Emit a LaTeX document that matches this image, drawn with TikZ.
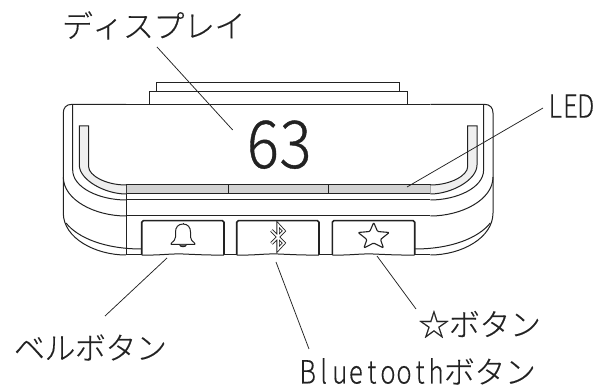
\documentclass[tikz,border=0pt]{standalone}
\usepackage{fontspec}
\setmainfont{Noto Sans CJK JP Light}[FakeBold=0.3]
\newfontfamily\latf[FakeStretch=0.8,FakeBold=0.3]{Noto Sans CJK JP Light}
\newfontfamily\bigf[FakeStretch=0.9,FakeBold=0.6]{Noto Sans CJK JP Light}
\newcommand\kanasize{\fontsize{31}{32}\selectfont}
\newcommand\hwc[1]{\makebox[16.05pt][c]{\latf\fontsize{32}{32}\selectfont #1}}
\newcommand\ledc[1]{\makebox[15.2pt][c]{\latf\fontsize{32}{32}\selectfont #1}}
\newcommand\bigc[1]{\makebox[32.5pt][c]{\bigf\fontsize{66}{66}\selectfont #1}}
\newcommand\kc[1]{\makebox[30.5pt][c]{\kanasize #1}}
\definecolor{ink}{HTML}{222222}
\definecolor{ledgrey}{HTML}{D2D2D2}
\definecolor{pipegrey}{HTML}{EFEFEF}
\tikzset{
  body/.style={draw=ink,line width=1pt},
  btn/.style={draw=ink,line width=1.6pt,rounded corners=1.5pt},
  leader/.style={draw=ink,line width=0.75pt},
  lbl/.style={inner sep=0pt,anchor=base west,text=ink},
  icon/.style={draw=ink,line width=1pt,line join=round}
}
\newcommand\sidepart{%
  \draw[body,fill=pipegrey] (126,185) .. controls (105,185) and (88.7,175) .. (88.7,167) -- (88.7,126)
     -- (79.3,126) -- (79.3,165) .. controls (79.3,180) and (105,194) .. (126,194);
  \draw[body] (126,104.3) -- (72,104.3) .. controls (66,104.3) and (63.3,108) .. (63.3,113)
     -- (63.3,213) .. controls (63.3,238) and (95,255) .. (126,255);
  \draw[body] (72.7,104.3) -- (72.7,170) .. controls (72.7,188) and (100,200) .. (126,200);
  \draw[body] (63.3,177) .. controls (63.3,200) and (95,216) .. (126,216);
  \draw[body] (66,223) .. controls (78,238) and (105,249) .. (141.7,249);
}
\begin{document}
\begin{tikzpicture}[x=1pt,y=-1pt]
\useasboundingbox (0,0) rectangle (595,387);
% top plates
\draw[body] (156.7,92) -- (156.7,82.7) -- (399.6,82.7) -- (399.6,92);
\draw[body] (149,104.3) -- (149,92) -- (407.3,92) -- (407.3,104.3);
% LED strip
\draw[body,fill=ledgrey] (126,185) rectangle (430.3,194);
\draw[body] (228.3,185) -- (228.3,194) (328,185) -- (328,194);
% sides
\sidepart
\begin{scope}[cm={-1,0,0,1,(556.3pt,0pt)}]
\sidepart
\end{scope}
% horizontals
\draw[body] (126,104.3) -- (430.3,104.3);
\draw[body] (126,200) -- (430.3,200);
\draw[body] (126,216) -- (430.3,216);
\draw[body] (126,194) -- (126,255);
\draw[body] (126,255) -- (141.7,255) (224,255) -- (236.7,255) (319,255) -- (332.3,255) (414.7,255) -- (430.3,255);
% buttons
\draw[btn] (141.7,255) -- (141.7,220.7) -- (224,220.7) -- (224,255);
\draw[btn] (236.7,255) -- (236.7,220.7) -- (319,220.7) -- (319,255);
\draw[btn] (332.3,255) -- (332.3,220.7) -- (414.7,220.7) -- (414.7,255);
\draw[body] (141.7,255) .. controls (160,255.5) and (170,253.5) .. (183,254) .. controls (195,254.5) and (210,255.3) .. (224,255);
\draw[body] (236.7,255) .. controls (255,255.5) and (265,253.5) .. (278,254) .. controls (290,254.5) and (305,255.3) .. (319,255);
\draw[body] (332.3,255) .. controls (350,255.5) and (360,253.5) .. (373,254) .. controls (385,254.5) and (400,255.3) .. (414.7,255);
% bell
\draw[icon] (183,224) .. controls (178,224) and (175.5,227.5) .. (175.5,232) -- (175.5,237)
   .. controls (175.5,240) and (173.5,241) .. (171.5,243) .. controls (170.5,244) and (171,244.5) .. (172,244.5)
   -- (194,244.5) .. controls (195,244.5) and (195.5,244) .. (194.5,243)
   .. controls (192.5,241) and (190.5,240) .. (190.5,237) -- (190.5,232) .. controls (190.5,227.5) and (188,224) .. (183,224) -- cycle;
\draw[icon,fill=ink!70] (179.5,244.5) .. controls (180,247.5) and (186,247.5) .. (186.5,244.5);
\draw[icon,line width=0.7pt] (183,222.8) -- (183,224);
% bluetooth
\draw[draw=ink,double=white,double distance=1.5pt,line width=0.85pt,line join=miter]
   (271.5,230.5) -- (284,243) -- (278,249.5) -- (278,224.5) -- (284,231) -- (271.5,243.5);
% star
\draw[icon,rounded corners=1pt,line width=1.1pt]
   (373.7,222.5)
   -- ++(3.9,9) -- (389.3,232.5) -- (380.5,239.5) -- (383.5,248) -- (373.7,243)
   -- (363.9,248) -- (366.9,239.5) -- (358.1,232.5) -- (369.8,231.5) -- cycle;
% labels
\node[lbl] (display) at (62,37.5) {\kc{デ}\kc{ィ}\kc{ス}\kc{プ}\kc{レ}\kc{イ}};
\node[lbl] (value) at (246.5,168) {\bigc{6}\bigc{3}};
\node[lbl] (led) at (547.5,117.7) {\ledc{L}\ledc{E}\ledc{D}};
\node[lbl] (bell) at (14,359.5) {\kc{ベ}\kc{ル}\kc{ボ}\kc{タ}\kc{ン}};
\node[lbl] (star) at (418.5,336) {\kc{☆}\kc{ボ}\kc{タ}\kc{ン}};
\node[lbl] (bt) at (299.5,383.5) {\hwc{B}\hwc{l}\hwc{u}\hwc{e}\hwc{t}\hwc{o}\hwc{o}\hwc{t}\hwc{h}\kc{ボ}\kc{タ}\kc{ン}};
% leaders
\coordinate (dispA) at (157,47);
\coordinate (dispB) at (232.7,130);
\coordinate (ledA) at (543,108);
\coordinate (ledB) at (407,187);
\coordinate (bellA) at (167,258);
\coordinate (bellB) at (105,316);
\coordinate (btA) at (276,262);
\coordinate (btB) at (309,349);
\coordinate (starA) at (377,256);
\coordinate (starB) at (416,309);
\draw[leader] (dispA) -- (dispB);
\draw[leader] (ledA) -- (ledB);
\draw[leader] (bellA) -- (bellB);
\draw[leader] (btA) -- (btB);
\draw[leader] (starA) -- (starB);
\end{tikzpicture}
\end{document}
